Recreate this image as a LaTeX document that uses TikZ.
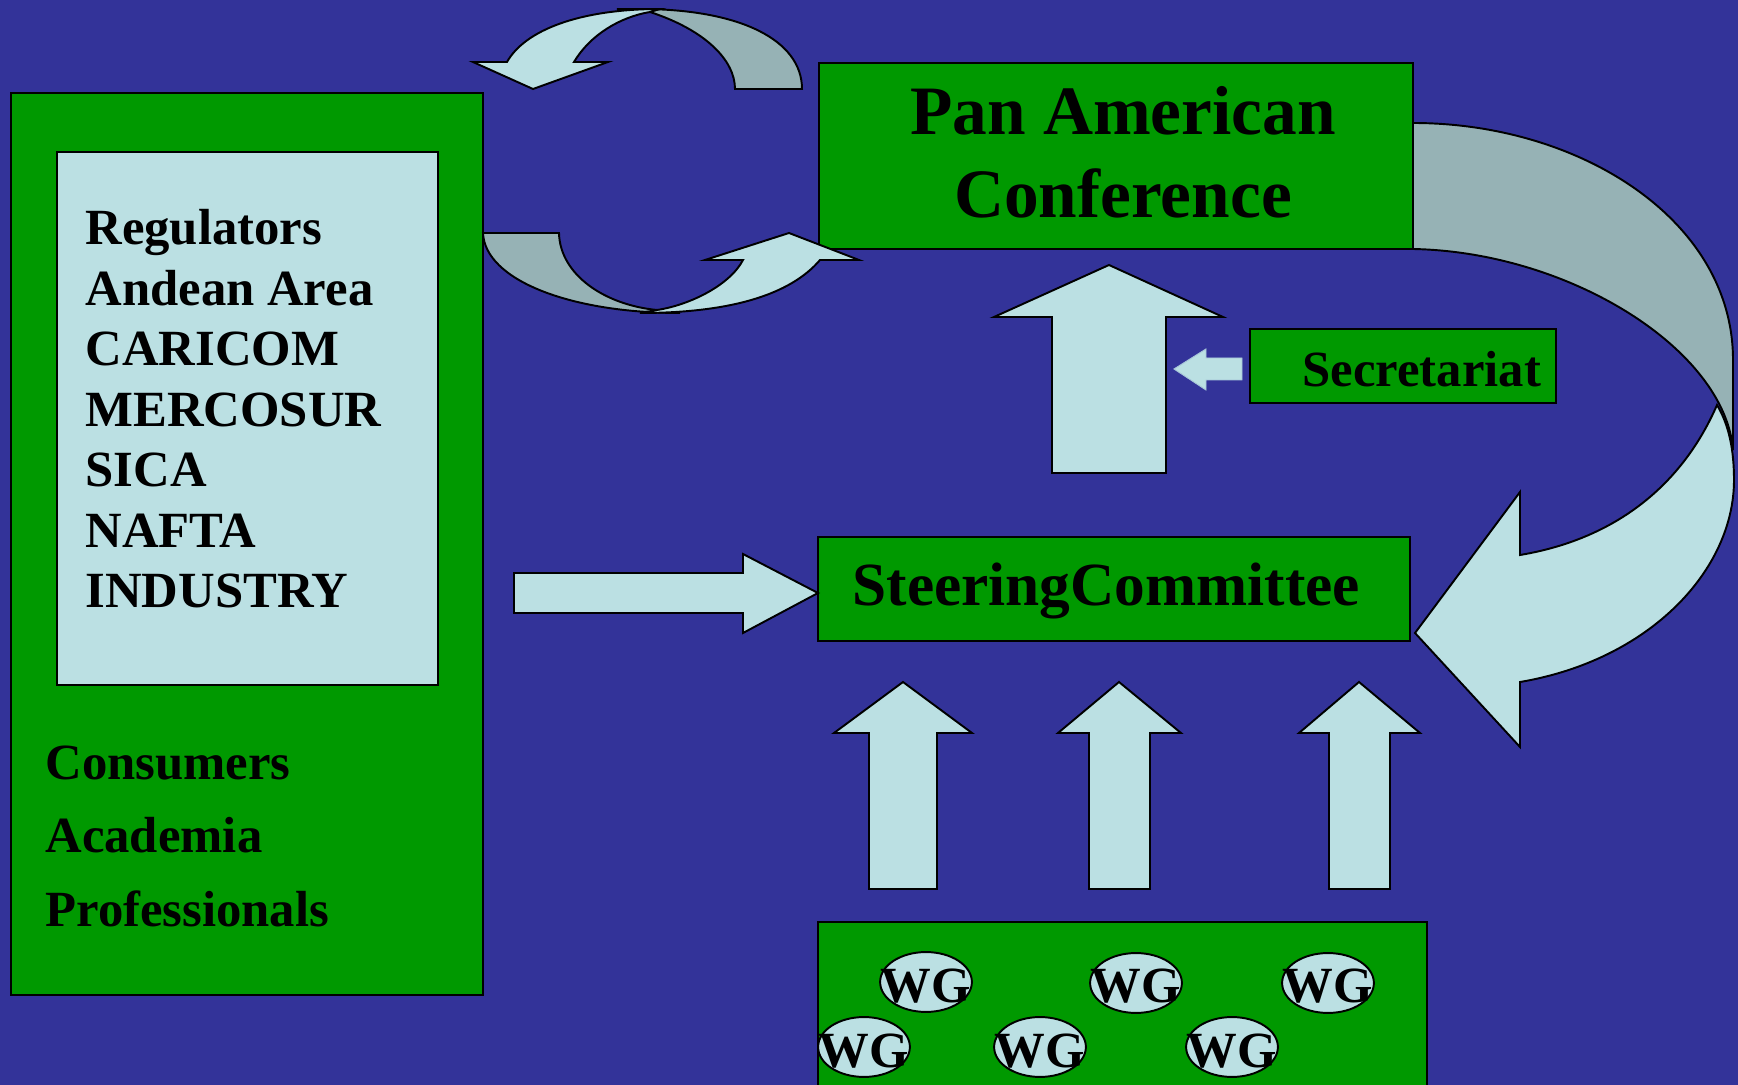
\documentclass[tikz,border=0pt]{standalone}
\usepackage{fontspec}
\setmainfont{Liberation Serif}
\usetikzlibrary{shapes.geometric,fit}
\definecolor{bgblue}{RGB}{51,51,153}
\definecolor{grn}{RGB}{0,153,0}
\definecolor{lb}{RGB}{187,224,227}
\definecolor{gb}{RGB}{150,178,181}
\begin{document}
\begin{tikzpicture}[x=0.414pt,y=-0.414pt,line join=miter]
\tikzset{
  box/.style={draw=black,fill=grn,line width=0.8pt,inner sep=0pt},
  lightbox/.style={draw=black,fill=lb,line width=0.8pt,inner sep=0pt},
  blk/.style={draw=black,fill=lb,line width=0.8pt},
  backpart/.style={draw=black,fill=gb,line width=0.8pt},
  txt/.style={inner sep=0pt,text=black,font=\bfseries\fontsize{21}{25}\selectfont},
  titletxt/.style={inner sep=0pt,text=black,font=\bfseries\fontsize{28.7}{34}\selectfont},
  steertxt/.style={inner sep=0pt,text=black,font=\bfseries\fontsize{25.4}{30}\selectfont},
  wg/.style={ellipse,draw=black,fill=lb,line width=0.8pt,inner sep=0pt,minimum width=38pt,minimum height=24.8pt},
}
% background
\fill[bgblue] (0,0) rectangle (1738,1085);
\useasboundingbox (0,0) rectangle (1738,1085);

% left box
\node[box,fit={(11,93) (483,995)}] (left) {};
\node[lightbox,fit={(57,152) (438,685)}] (inner) {};
\node[txt,anchor=base west] (t1) at (85,245) {Regulators};
\node[txt,anchor=base west] (t2) at (85,306) {Andean Area};
\node[txt,anchor=base west] (t3) at (85,366) {CARICOM};
\node[txt,anchor=base west] (t4) at (85,427) {MERCOSUR};
\node[txt,anchor=base west] (t5) at (85,487) {SICA};
\node[txt,anchor=base west] (t6) at (85,548) {NAFTA};
\node[txt,anchor=base west] (t7) at (85,608) {INDUSTRY};
\node[txt,anchor=base west] (c1) at (45,780) {Consumers};
\node[txt,anchor=base west] (c2) at (45,853) {Academia};
\node[txt,anchor=base west] (c3) at (45,927) {Professionals};

% Pan American Conference
\node[box,fit={(819,63) (1413,249)}] (pan) {};
\node[titletxt,anchor=base] (pan1) at (1123,135) {Pan American};
\node[titletxt,anchor=base] (pan2) at (1123,218) {Conference};

% Secretariat
\node[box,fit={(1250,329) (1556,403)}] (sec) {};
\node[txt,anchor=base west] (sect) at (1302,387) {Secretariat};

% Steering Committee
\node[box,fit={(818,537) (1410,641)}] (steer) {};
\node[steertxt,anchor=base west] (steert) at (852,606) {SteeringCommittee};

% WG box
\node[box,fit={(818,922) (1427,1095)}] (wgbox) {};
\foreach \n/\x/\y in {1/926/982,2/1136/983,3/1328/983,4/864/1047,5/1040/1047,6/1232/1047}{
  \node[wg] (wg\n) at (\x,\y) {};
  \node[txt,anchor=base] (wgt\n) at (\x,\y+20) {WG};
}

% up arrow to Pan American
\draw[blk] (1052,473) -- (1052,317) -- (994,317) -- (1109,265) -- (1223,317) -- (1166,317) -- (1166,473) -- cycle;
% small arrow from Secretariat
\filldraw[fill=lb,draw=lb!85!bgblue,line width=0.4pt] (1242,358) -- (1206,358) -- (1206,349) -- (1174,369) -- (1206,390) -- (1206,380) -- (1242,380) -- cycle;

% horizontal arrow to steering
\draw[blk] (514,573) -- (743,573) -- (743,554) -- (818,593) -- (743,633) -- (743,613) -- (514,613) -- cycle;

% three up arrows
\draw[blk] (869,889) -- (869,733) -- (834,733) -- (903,682) -- (972,733) -- (937,733) -- (937,889) -- cycle;
\draw[blk] (1089,889) -- (1089,733) -- (1058,733) -- (1119,682) -- (1181,733) -- (1150,733) -- (1150,889) -- cycle;
\draw[blk] (1329,889) -- (1329,733) -- (1299,733) -- (1359,682) -- (1420,733) -- (1390,733) -- (1390,889) -- cycle;

% upper curved arrow (back then front)
\draw[backpart] (617,9) -- (640,9) .. controls (740,9) and (802,40) .. (802,89) -- (735,89) .. controls (735,60) and (705,30) .. (650,12) -- cycle;
\draw[blk] (660,9) .. controls (580,9) and (525,30) .. (507,62) -- (473,62) -- (533,89) -- (608,62) -- (574,62) .. controls (590,35) and (620,17) .. (650,12) -- cycle;

% lower curved arrow
\draw[backpart] (483,233) -- (559,233) .. controls (560,275) and (605,305) .. (657,310) -- (680,313) .. controls (570,313) and (485,280) .. (483,233) -- cycle;
\draw[blk] (640,313) .. controls (730,313) and (790,295) .. (820,260) -- (859,260) -- (789,233) -- (705,260) -- (743,260) .. controls (730,285) and (690,305) .. (657,310) -- cycle;

% big right curved arrow
\draw[backpart] (1413,123) .. controls (1580,123) and (1733,220) .. (1733,360) -- (1733,450) .. controls (1725,350) and (1570,252) .. (1413,249) -- cycle;
\draw[blk] (1717,405) .. controls (1729,425) and (1734,450) .. (1734,480) .. controls (1734,570) and (1650,660) .. (1520,682) -- (1520,747) -- (1415,633) -- (1520,492) -- (1520,555) .. controls (1610,540) and (1680,490) .. (1717,405) -- cycle;
\end{tikzpicture}
\end{document}
